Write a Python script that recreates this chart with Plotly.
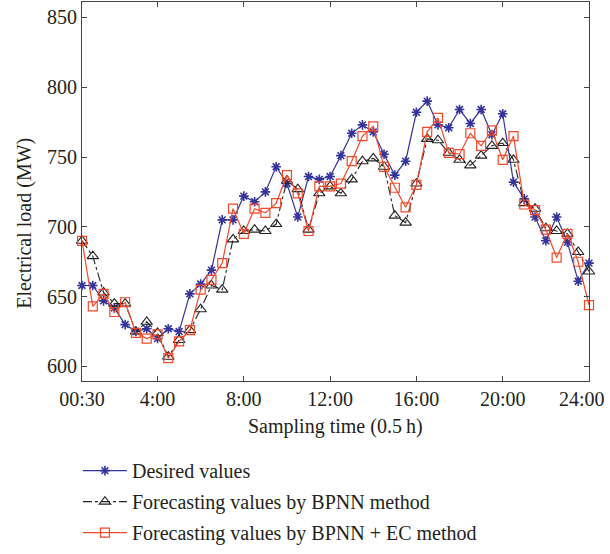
import plotly.graph_objects as go

tick_labels = ["00:30", "4:00", "8:00", "12:00", "16:00", "20:00", "24:00"]
tick_positions = [0, 7, 15, 23, 31, 39, 47]
sample_index = list(range(48))

desired = [658, 658, 647, 642, 630, 625, 627, 620, 627, 625, 652, 659,
           669, 705, 705, 722, 718, 725, 743, 731, 707, 736, 734, 736,
           751, 767, 773, 768, 752, 737, 747, 782, 790, 773, 771, 784,
           774, 784, 766, 781, 732, 720, 707, 690, 707, 689, 661, 674]

bpnn = [690, 679, 653, 645, 645, 625, 632, 624, 607, 619, 626, 641,
        658, 655, 691, 697, 698, 697, 702, 733, 727, 698, 724, 729,
        724, 734, 747, 749, 743, 708, 703, 731, 763, 762, 753, 748,
        744, 751, 758, 760, 748, 717, 713, 699, 697, 695, 682, 668]

bpnn_ec = [690, 643, 652, 639, 646, 624, 620, 623, 606, 618, 626, 655,
           662, 674, 713, 695, 713, 710, 717, 737, 724, 697, 729, 729,
           731, 747, 765, 772, 743, 728, 714, 730, 768, 778, 753, 752,
           767, 758, 769, 748, 765, 716, 712, 698, 678, 695, 675, 644]

FONT = "Liberation Serif, Times New Roman, serif"
TXT = "#231f20"
BLUE = "#33339b"
RED = "#f2492b"
BLACK = "#222222"

fig = go.Figure()
fig.add_trace(go.Scatter(
    x=sample_index, y=desired, name="Desired values", mode="lines+markers",
    line=dict(color=BLUE, width=1.2),
    marker=dict(symbol="asterisk-open", size=8, color=BLUE, line=dict(color=BLUE, width=1.6)),
    legendgroup="a", cliponaxis=False))
fig.add_trace(go.Scatter(
    x=sample_index, y=bpnn, name="Forecasting values by BPNN method", mode="lines+markers",
    line=dict(color=BLACK, width=1.1, dash="dashdot"),
    marker=dict(symbol="triangle-up-open", size=10, color=BLACK, line=dict(color=BLACK, width=1.1)),
    legendgroup="b", cliponaxis=False))
fig.add_trace(go.Scatter(
    x=sample_index, y=bpnn_ec, name="Forecasting values by BPNN + EC method", mode="lines+markers",
    line=dict(color=RED, width=1.2),
    marker=dict(symbol="square-open", size=9, color=RED, line=dict(color=RED, width=1.2)),
    legendgroup="c", cliponaxis=False))

axis_common = dict(
    showline=True, linecolor="#444444", linewidth=1, mirror="ticks",
    ticks="inside", ticklen=5, tickcolor="#444444", tickwidth=1,
    showgrid=False, zeroline=False,
    tickfont=dict(family=FONT, size=20, color=TXT),
)

# last label drawn separately so it stays inside the page
x_ticktext = tick_labels[:-1] + [""]

fig.update_layout(
    width=610, height=554,
    margin=dict(l=82, r=21, t=2, b=159),
    paper_bgcolor="white", plot_bgcolor="white",
    font=dict(family=FONT, size=20, color=TXT),
    xaxis=dict(range=[0, 47], tickvals=tick_positions, ticktext=x_ticktext, **axis_common),
    yaxis=dict(range=[589.6, 861], tickvals=[600, 650, 700, 750, 800, 850], **axis_common),
    showlegend=True,
    legend=dict(x=-0.008, xanchor="left", y=-0.185, yanchor="top",
                font=dict(family=FONT, size=20, color=TXT),
                traceorder="grouped", tracegroupgap=2, itemwidth=44,
                bgcolor="rgba(0,0,0,0)"),
    annotations=[
        dict(text=tick_labels[-1], xref="paper", yref="paper",
             x=1, y=-0.0488, xanchor="right", yanchor="middle",
             xshift=18, showarrow=False, font=dict(family=FONT, size=20, color=TXT)),
        dict(text="Sampling time (0.5\u2009h)", xref="paper", yref="paper",
             x=0.5, y=-0.1196, xanchor="center", yanchor="middle",
             showarrow=False, font=dict(family=FONT, size=20, color=TXT)),
        dict(text="Electrical load (MW)", xref="paper", yref="paper",
             x=-0.1124, y=0.4148, xanchor="center", yanchor="middle", textangle=-90,
             showarrow=False, font=dict(family=FONT, size=20, color=TXT)),
    ],
)

fig.write_html("out.html", config={"displayModeBar": False},
               post_script="document.body.style.margin='0px';")
